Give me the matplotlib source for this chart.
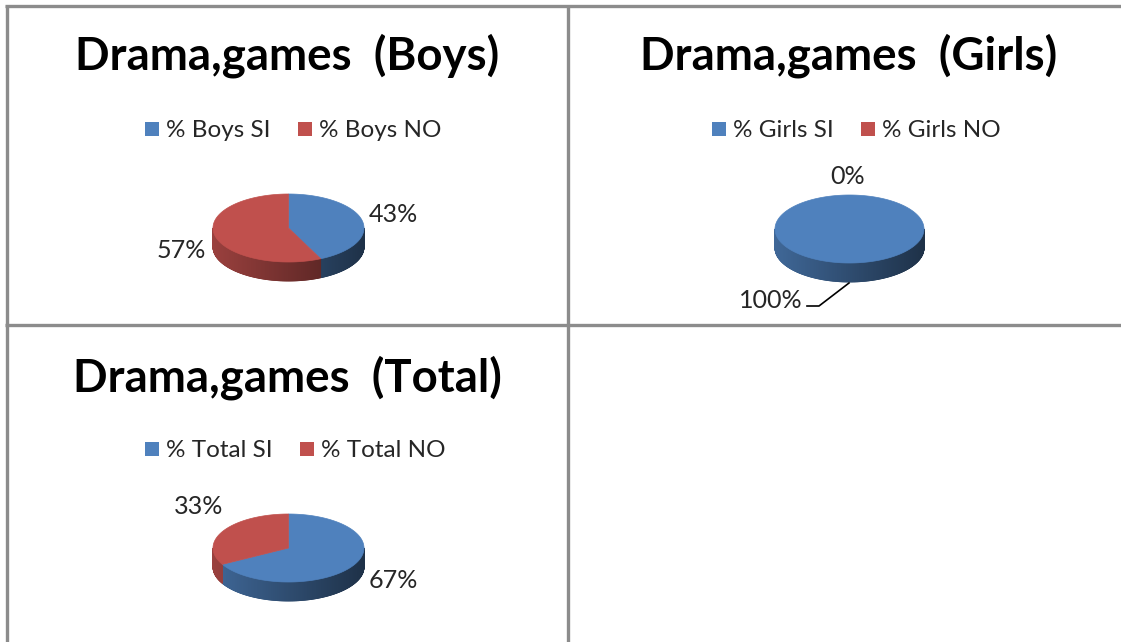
import numpy as np
import matplotlib
matplotlib.use("Agg")
import matplotlib.pyplot as plt
from matplotlib.textpath import TextPath
from matplotlib.font_manager import FontProperties
from matplotlib.patches import Polygon, Rectangle
from matplotlib.collections import PolyCollection
from matplotlib.colors import to_rgb

# ---------------- data ----------------
titles = ["Drama,games  (Boys)", "Drama,games  (Girls)", "Drama,games  (Total)"]
legend_boys = ["% Boys SI", "% Boys NO"]
legend_girls = ["% Girls SI", "% Girls NO"]
legend_total = ["% Total SI", "% Total NO"]
values_boys = [43, 57]
values_girls = [100, 0]
values_total = [67, 33]
colors = ["#4F81BD", "#C0504D"]

FAMILY = "Lato"
W, H, DPI = 1121, 642, 100

fig = plt.figure(figsize=(W / DPI, H / DPI), dpi=DPI)
ax = fig.add_axes([0, 0, 1, 1])
ax.set_xlim(0, W)
ax.set_ylim(H, 0)
ax.axis("off")


def fit_size(text, width_px, weight="normal"):
    prop = FontProperties(family=FAMILY, weight=weight)
    tp = TextPath((0, 0), text, size=100, prop=prop)
    w = tp.get_extents().width
    return 72.0 * width_px / w * 100 / 100


title_fs = fit_size(titles[0], 419, "bold")
legend_fs = fit_size(legend_boys[0], 101)
label_fs = fit_size("33%", 47)

# ---------------- borders ----------------
line_kw = dict(color="#8c8c8c", lw=2.4, solid_capstyle="butt", zorder=1)
ax.plot([5, W], [6, 6], **line_kw)
ax.plot([7, 7], [5, H], **line_kw)
ax.plot([568, 568], [5, H], **line_kw)
ax.plot([5, W], [325, 325], **line_kw)


def draw_pie(vals, cx, cy, rx, ry, depth):
    total = float(sum(vals))
    cum = np.concatenate([[0], np.cumsum(vals)]) / total
    for i, v in enumerate(vals):
        if v <= 0:
            continue
        a1 = np.deg2rad(90 - 360 * cum[i])
        a2 = np.deg2rad(90 - 360 * cum[i + 1])
        n = max(4, int(abs(a1 - a2) / np.deg2rad(0.5)))
        th = np.linspace(a1, a2, n + 1)
        base = np.array(to_rgb(colors[i]))
        # side (front half only)
        polys, cols = [], []
        for t0, t1 in zip(th[:-1], th[1:]):
            tm = 0.5 * (t0 + t1)
            if np.sin(tm) >= 0:
                continue
            x0, x1 = cx + rx * np.cos(t0), cx + rx * np.cos(t1)
            y0, y1 = cy - ry * np.sin(t0), cy - ry * np.sin(t1)
            polys.append([(x0, y0), (x1, y1), (x1, y1 + depth), (x0, y0 + depth)])
            u = np.cos(tm)
            f = 0.80 - 0.21 * (u + 1)
            cols.append(tuple(base * f))
        if polys:
            pc = PolyCollection(polys, facecolors=cols, edgecolors=cols,
                                linewidths=0.6, zorder=2)
            ax.add_collection(pc)
        # top face
        pts = [(cx, cy)] if v < total else []
        pts += [(cx + rx * np.cos(t), cy - ry * np.sin(t)) for t in th]
        ax.add_patch(Polygon(pts, closed=True, facecolor=colors[i],
                             edgecolor=colors[i], lw=0.5, zorder=3))


def draw_legend(labels, xc, baseline):
    sq, gap1, gap2 = 14, 7, 31
    prop = FontProperties(family=FAMILY)
    widths = []
    for lab in labels:
        tp = TextPath((0, 0), lab, size=legend_fs, prop=prop)
        widths.append(tp.get_extents().width * DPI / 72)
    total_w = sum(sq + gap1 + w for w in widths) + gap2 * (len(labels) - 1)
    x = xc - total_w / 2
    for lab, w, c in zip(labels, widths, colors):
        ax.add_patch(Rectangle((x, baseline - 15), sq, sq, facecolor=c,
                               edgecolor="none", zorder=3))
        ax.text(x + sq + gap1, baseline, lab, fontsize=legend_fs,
                family=FAMILY, color="#262626", ha="left", va="baseline")
        x += sq + gap1 + w + gap2


def label(txt, x, y):
    ax.text(x, y, txt, fontsize=label_fs, family=FAMILY, color="#262626",
            ha="center", va="center")


# ---------------- Boys ----------------
ax.text(287.5, 69, titles[0], fontsize=title_fs, family=FAMILY,
        weight="bold", ha="center", va="baseline", color="black")
draw_legend(legend_boys, 292, 137)
draw_pie(values_boys, 288.5, 228, 75.5, 34, 19)
label(f"{values_boys[0]}%", 393, 214)
label(f"{values_boys[1]}%", 181, 250)

# ---------------- Girls ----------------
ax.text(849, 69, titles[1], fontsize=title_fs, family=FAMILY,
        weight="bold", ha="center", va="baseline", color="black")
draw_legend(legend_girls, 855, 137)
draw_pie(values_girls, 849.5, 229, 74.5, 34, 19)
label(f"{values_girls[1]}%", 848, 177)
label(f"{values_girls[0]}%", 771, 300)
ax.plot([807, 819, 849], [306, 306, 283], color="black", lw=1.2, zorder=4)

# ---------------- Total ----------------
ax.text(287.5, 391, titles[2], fontsize=title_fs, family=FAMILY,
        weight="bold", ha="center", va="baseline", color="black")
draw_legend(legend_total, 294, 457)
draw_pie(values_total, 288.5, 548, 75.5, 34, 19)
label(f"{values_total[1]}%", 198.5, 507)
label(f"{values_total[0]}%", 393, 580)

fig.savefig("out.png", dpi=DPI)
